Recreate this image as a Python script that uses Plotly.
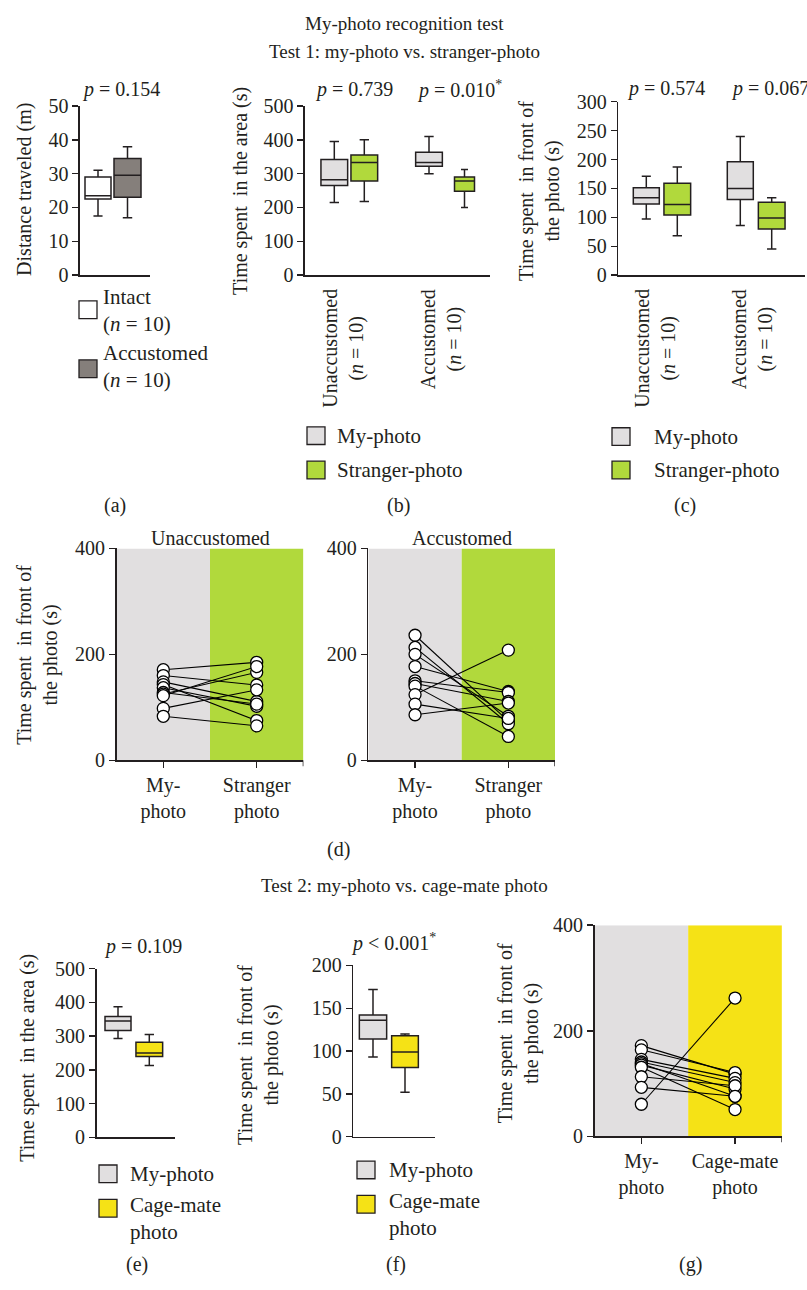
import plotly.graph_objects as go

W, H = 807, 1290
FONT = "Liberation Serif"
INK = "#231f20"
GREY_BOX = "#e1dfe0"
GREEN = "#b1d93c"
YELLOW = "#f5e216"
DARK = "#857f7b"
FS = 20

# ---------------- data ----------------
# box stats: [lowerfence, q1, median, q3, upperfence]
a_labels = ["Intact", "Accustomed"]
a_intact = [17.5, 22.5, 23.5, 29, 31]
a_accustomed = [17, 23, 29.5, 34.5, 38]
a_p = "0.154"

bc_categories = ["Unaccustomed", "Accustomed"]
b_my = [[215, 265, 282, 342, 395], [300, 322, 333, 363, 410]]
b_stranger = [[218, 278, 333, 355, 400], [200, 248, 278, 290, 312]]
b_p = ["0.739", "0.010"]

c_my = [[97, 123, 134, 151, 171], [86, 131, 150, 196, 240]]
c_stranger = [[68, 104, 122, 159, 187], [45, 80, 99, 126, 134]]
c_p = ["0.574", "0.067"]

d_unacc_my = [171, 160, 148, 143, 137, 128, 125, 122, 98, 83]
d_unacc_stranger = [185, 142, 111, 75, 102, 106, 166, 177, 133, 65]
d_acc_my = [236, 213, 200, 177, 150, 145, 140, 124, 106, 86]
d_acc_stranger = [74, 69, 83, 130, 128, 111, 45, 208, 79, 108]
d_xlabels = ["My-<br>photo", "Stranger<br>photo"]

e_my = [293, 317, 345, 358, 387]
e_cage = [213, 240, 250, 282, 305]
e_p = "0.109"

f_my = [93, 114, 136, 142, 172]
f_cage = [52, 81, 99, 118, 120]
f_p = "0.001"

g_my = [172, 164, 146, 141, 138, 135, 131, 113, 93, 61]
g_cage = [118, 121, 110, 102, 76, 90, 51, 96, 76, 262]
g_xlabels = ["My-<br>photo", "Cage-mate<br>photo"]


# ---------------- helpers ----------------
def px(x):
    return x / W


def py(y):
    return 1 - y / H


fig = go.Figure()
layout_axes = {}
shapes = []
annotations = []


def add_axes(n, xdom, ydom, xr, yr, dtick, xticks=None):
    xk = "xaxis" if n == 1 else f"xaxis{n}"
    yk = "yaxis" if n == 1 else f"yaxis{n}"
    ya = "y" if n == 1 else f"y{n}"
    xa = "x" if n == 1 else f"x{n}"
    common = dict(showline=True, linecolor=INK, linewidth=1.6, showgrid=False,
                  zeroline=False, fixedrange=True,
                  tickfont=dict(family=FONT, size=FS, color=INK))
    xdict = dict(common, domain=[px(xdom[0]), px(xdom[1])], range=xr, anchor=ya)
    if xticks is None:
        xdict.update(showticklabels=False, ticks="")
    else:
        xdict.update(tickmode="array", tickvals=xticks[0], ticktext=xticks[1],
                     ticks="outside", ticklen=6, tickwidth=1.4, tickcolor=INK)
        # closing tick at the right end of the axis
        shapes.append(dict(type="line", xref=xa, yref="paper", x0=xr[1], x1=xr[1],
                           y0=py(ydom[1]), y1=py(ydom[1] + 6),
                           line=dict(color=INK, width=1.4)))
    ydict = dict(common, domain=[py(ydom[1]), py(ydom[0])], range=yr, anchor=xa,
                 dtick=dtick, tick0=0, ticks="outside", ticklen=6, tickwidth=1.4,
                 tickcolor=INK)
    layout_axes[xk] = xdict
    layout_axes[yk] = ydict
    return xa, ya


def add_box(xa, ya, center, width, stats, color):
    lo, q1, med, q3, hi = stats
    fig.add_trace(go.Box(
        x=[center], q1=[q1], median=[med], q3=[q3], lowerfence=[lo], upperfence=[hi],
        width=width, fillcolor=color, line=dict(color=INK, width=1.5),
        whiskerwidth=0.35, boxpoints=False, xaxis=xa, yaxis=ya,
        showlegend=False, hoverinfo="skip"))


def text(t, x, y, size=FS, angle=0, xanchor="center", yanchor="middle", align="center"):
    annotations.append(dict(text=t, x=px(x), y=py(y), xref="paper", yref="paper",
                            showarrow=False, textangle=angle, xanchor=xanchor,
                            yanchor=yanchor, align=align,
                            font=dict(family=FONT, size=size, color=INK)))


def legend_square(x0, yc, color, size=18):
    shapes.append(dict(type="rect", xref="paper", yref="paper",
                       x0=px(x0), x1=px(x0 + size), y0=py(yc + size / 2), y1=py(yc - size / 2),
                       fillcolor=color, line=dict(color=INK, width=1.3), layer="above"))


def paired(xa, ya, left, right, bg_left, bg_right):
    shapes.append(dict(type="rect", xref=xa, yref=ya, x0=0.5, x1=1.5, y0=0, y1=400,
                       fillcolor=bg_left, line=dict(width=0), layer="below"))
    shapes.append(dict(type="rect", xref=xa, yref=ya, x0=1.5, x1=2.5, y0=0, y1=400,
                       fillcolor=bg_right, line=dict(width=0), layer="below"))
    lx, ly = [], []
    for l, r in zip(left, right):
        lx += [1, 2, None]
        ly += [l, r, None]
    fig.add_trace(go.Scatter(x=lx, y=ly, mode="lines", line=dict(color="black", width=1.1),
                             xaxis=xa, yaxis=ya, showlegend=False, hoverinfo="skip"))
    fig.add_trace(go.Scatter(x=[1] * len(left) + [2] * len(right), y=list(left) + list(right),
                             mode="markers",
                             marker=dict(size=12, color="white", line=dict(color="black", width=1.3)),
                             xaxis=xa, yaxis=ya, showlegend=False, hoverinfo="skip",
                             cliponaxis=False))


# ---------------- titles ----------------
text("My-photo recognition test", 404, 13, size=19)
text("Test 1: my-photo vs. stranger-photo", 404, 41, size=19)

# ---------------- (a) ----------------
xa, ya = add_axes(1, (80, 150), (96.7, 268.7), [0, 70], [0, 50], 10)
add_box(xa, ya, 18, 26, a_intact, "white")
add_box(xa, ya, 47.5, 27, a_accustomed, DARK)
text(f"<i>p</i> = {a_p}", 121, 80)
text("Distance traveled (m)", 25, 182, angle=-90)
legend_square(79, 304, "white")
legend_square(79, 364, DARK)
text(f"{a_labels[0]}<br>(<i>n</i> = 10)", 101, 305, xanchor="left", align="left", size=21)
text(f"{a_labels[1]}<br>(<i>n</i> = 10)", 101, 362, xanchor="left", align="left", size=21)
text("(a)", 115, 503)

# ---------------- (b) ----------------
xa, ya = add_axes(2, (305, 490), (96.7, 268.7), [0, 185], [0, 500], 100)
add_box(xa, ya, 29.3, 26.7, b_my[0], GREY_BOX)
add_box(xa, ya, 59.3, 26.7, b_stranger[0], GREEN)
add_box(xa, ya, 124, 26.7, b_my[1], GREY_BOX)
add_box(xa, ya, 159.5, 20, b_stranger[1], GREEN)
text(f"<i>p</i> = {b_p[0]}", 354, 80)
text(f"<i>p</i> = {b_p[1]}<sup>*</sup>", 459, 80)
text("Time spent  in the area (s)", 241, 183, angle=-90)
text(f"{bc_categories[0]}<br>(<i>n</i> = 10)", 344, 281, angle=-90, yanchor="top")
text(f"{bc_categories[1]}<br>(<i>n</i> = 10)", 441, 281, angle=-90, yanchor="top")
legend_square(307, 432, GREY_BOX)
legend_square(307, 467, GREEN)
text("My-photo", 335, 432, xanchor="left", size=21)
text("Stranger-photo", 335, 467, xanchor="left", size=21)
text("(b)", 398, 503)

# ---------------- (c) ----------------
xa, ya = add_axes(3, (618.3, 805), (92.3, 268.7), [0, 186.7], [0, 300], 50)
add_box(xa, ya, 28, 26, c_my[0], GREY_BOX)
add_box(xa, ya, 59, 26.7, c_stranger[0], GREEN)
add_box(xa, ya, 122, 26, c_my[1], GREY_BOX)
add_box(xa, ya, 153.4, 26.7, c_stranger[1], GREEN)
text(f"<i>p</i> = {c_p[0]}", 666, 79)
text(f"<i>p</i> = {c_p[1]}", 729, 79, xanchor="left")
text("Time spent  in front of<br>the photo (s)", 540, 183, angle=-90)
text(f"{bc_categories[0]}<br>(<i>n</i> = 10)", 656, 281, angle=-90, yanchor="top")
text(f"{bc_categories[1]}<br>(<i>n</i> = 10)", 752, 281, angle=-90, yanchor="top")
legend_square(612, 433, GREY_BOX)
legend_square(612, 467, GREEN)
text("My-photo", 652, 433, xanchor="left", size=21)
text("Stranger-photo", 652, 467, xanchor="left", size=21)
text("(c)", 685, 503)

# ---------------- (d) ----------------
xa, ya = add_axes(4, (116.6, 303.4), (546.7, 762.3), [0.5, 2.5], [0, 400], 200,
                  xticks=([1, 2], d_xlabels))
paired(xa, ya, d_unacc_my, d_unacc_stranger, GREY_BOX, GREEN)
text(bc_categories[0], 210, 536)
xa, ya = add_axes(5, (368.4, 555), (546.7, 762.3), [0.5, 2.5], [0, 400], 200,
                  xticks=([1, 2], d_xlabels))
paired(xa, ya, d_acc_my, d_acc_stranger, GREY_BOX, GREEN)
text(bc_categories[1], 462, 536)
text("Time spent  in front of<br>the photo (s)", 38, 655, angle=-90)
text("(d)", 338, 853)

text("Test 2: my-photo vs. cage-mate photo", 404, 890, size=19)

# ---------------- (e) ----------------
xa, ya = add_axes(6, (96.7, 175), (974.3, 1146), [0, 78.3], [0, 500], 100)
add_box(xa, ya, 21.3, 26, e_my, GREY_BOX)
add_box(xa, ya, 52.6, 26.7, e_cage, YELLOW)
text(f"<i>p</i> = {e_p}", 143, 952)
text("Time spent  in the area (s)", 28, 1065, angle=-90)
legend_square(99, 1183, GREY_BOX)
legend_square(99, 1218, YELLOW)
text("My-photo", 128, 1183, xanchor="left", size=21)
text("Cage-mate<br>photo", 128, 1228, xanchor="left", align="left", size=21)
text("(e)", 137, 1275)

# ---------------- (f) ----------------
xa, ya = add_axes(7, (353.3, 435), (971, 1145.3), [0, 81.7], [0, 200], 50)
add_box(xa, ya, 19.7, 27.3, f_my, GREY_BOX)
add_box(xa, ya, 51.7, 26.7, f_cage, YELLOW)
text(f"<i>p</i> &lt; {f_p}<sup>*</sup>", 393, 948)
text("Time spent  in front of<br>the photo (s)", 259, 1062, angle=-90)
legend_square(357, 1179, GREY_BOX)
legend_square(357, 1214, YELLOW)
text("My-photo", 387, 1179, xanchor="left", size=21)
text("Cage-mate<br>photo", 387, 1224, xanchor="left", align="left", size=21)
text("(f)", 396, 1275)

# ---------------- (g) ----------------
xa, ya = add_axes(8, (594.5, 781.9), (930, 1145), [0.5, 2.5], [0, 400], 200,
                  xticks=([1, 2], g_xlabels))
paired(xa, ya, g_my, g_cage, GREY_BOX, YELLOW)
text("Time spent  in front of<br>the photo (s)", 518, 1040, angle=-90)
text("(g)", 690, 1275)

fig.update_layout(width=W, height=H, margin=dict(l=0, r=0, t=0, b=0),
                  paper_bgcolor="white", plot_bgcolor="rgba(0,0,0,0)",
                  shapes=shapes, annotations=annotations, showlegend=False,
                  hovermode=False,
                  font=dict(family=FONT, color=INK), **layout_axes)
fig.write_html("out.html", config={"displayModeBar": False, "staticPlot": True},
               post_script="document.body.style.margin='0';document.body.style.overflow='hidden';")
